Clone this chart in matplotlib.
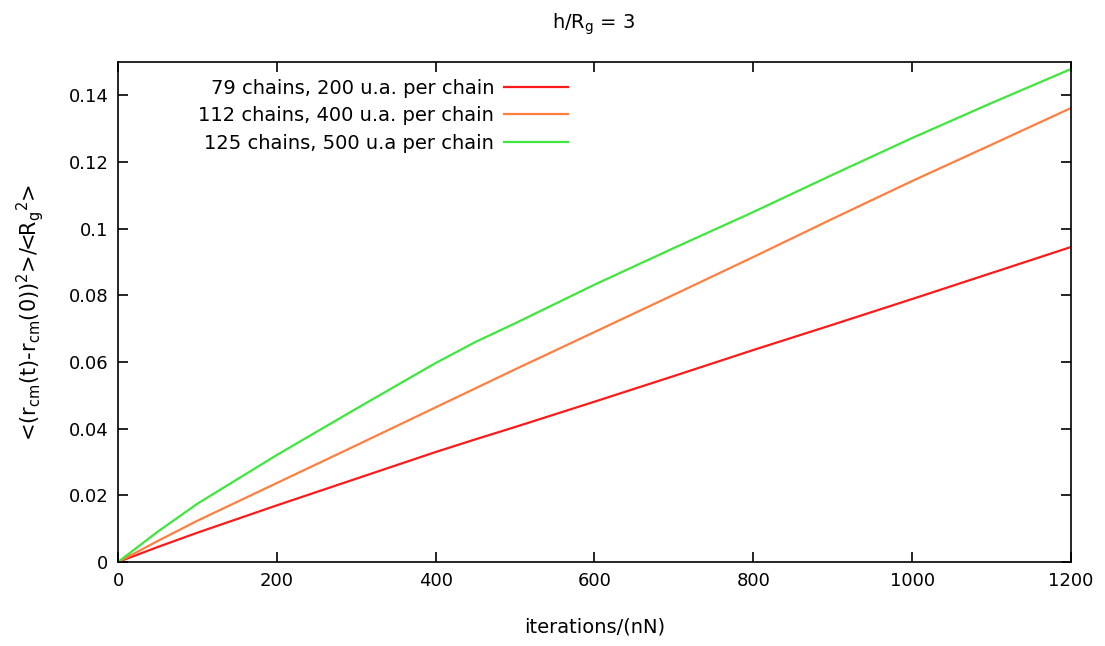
import numpy as np
import matplotlib
matplotlib.use("Agg")
import matplotlib.pyplot as plt

plt.rcParams["font.family"] = ["DejaVu Sans"]
plt.rcParams["mathtext.default"] = "regular"

# data
iters = [0, 50, 100, 200, 300, 400, 450, 500, 600, 700, 800, 900, 1000, 1100, 1200]
msd_79 = [0, 0.0045, 0.0088, 0.0170, 0.0250, 0.0330, 0.0368, 0.0405, 0.0481, 0.0558, 0.0636, 0.0712, 0.0789, 0.0867, 0.0945]
msd_112 = [0, 0.0063, 0.0124, 0.0237, 0.0350, 0.0464, 0.0521, 0.0578, 0.0690, 0.0802, 0.0915, 0.1030, 0.1143, 0.1252, 0.1362]
msd_125 = [0, 0.0091, 0.0175, 0.0321, 0.0460, 0.0597, 0.0660, 0.0716, 0.0832, 0.0942, 0.1050, 0.1162, 0.1272, 0.1377, 0.1479]

labels = ["79 chains, 200 u.a. per chain",
          "112 chains, 400 u.a. per chain",
          "125 chains, 500 u.a per chain"]
colors = ["#ff1a1a", "#ff7f40", "#3ee63e"]

fig = plt.figure(figsize=(11.05, 6.46), dpi=100)
ax = fig.add_axes([0.1068, 0.130, 0.8624, 0.774])

for y, lab, c in zip([msd_79, msd_112, msd_125], labels, colors):
    ax.plot(iters, y, color=c, lw=1.6, label=lab)

ax.set_xlim(0, 1200)
ax.set_ylim(0, 0.15)
ax.set_xticks(np.arange(0, 1201, 200))
ax.set_yticks(np.arange(0, 0.141, 0.02))
ax.set_yticklabels(["0", "0.02", "0.04", "0.06", "0.08", "0.1", "0.12", "0.14"])
ax.tick_params(direction="in", length=7, width=1.2, top=True, right=True,
               labelsize=13, pad=7)
for s in ax.spines.values():
    s.set_linewidth(1.2)

ax.set_xlabel("iterations/(nN)", fontsize=14, labelpad=20)
ax.set_ylabel(r"<(r$_{cm}$(t)-r$_{cm}$(0))$^2$>/<R$_g$$^2$>", fontsize=15, labelpad=16)
fig.text(0.5375, 0.963, r"h/R$_g$ = 3", ha="center", va="center", fontsize=14)

leg = ax.legend(loc="upper left", bbox_to_anchor=(0.066, 1.002), frameon=False,
                markerfirst=False, fontsize=14, handlelength=3.3,
                labelspacing=0.45, handletextpad=0.5)
for t in leg.get_texts():
    t.set_ha("right")
leg._legend_box.align = "right"

fig.savefig("out.png", dpi=100)
